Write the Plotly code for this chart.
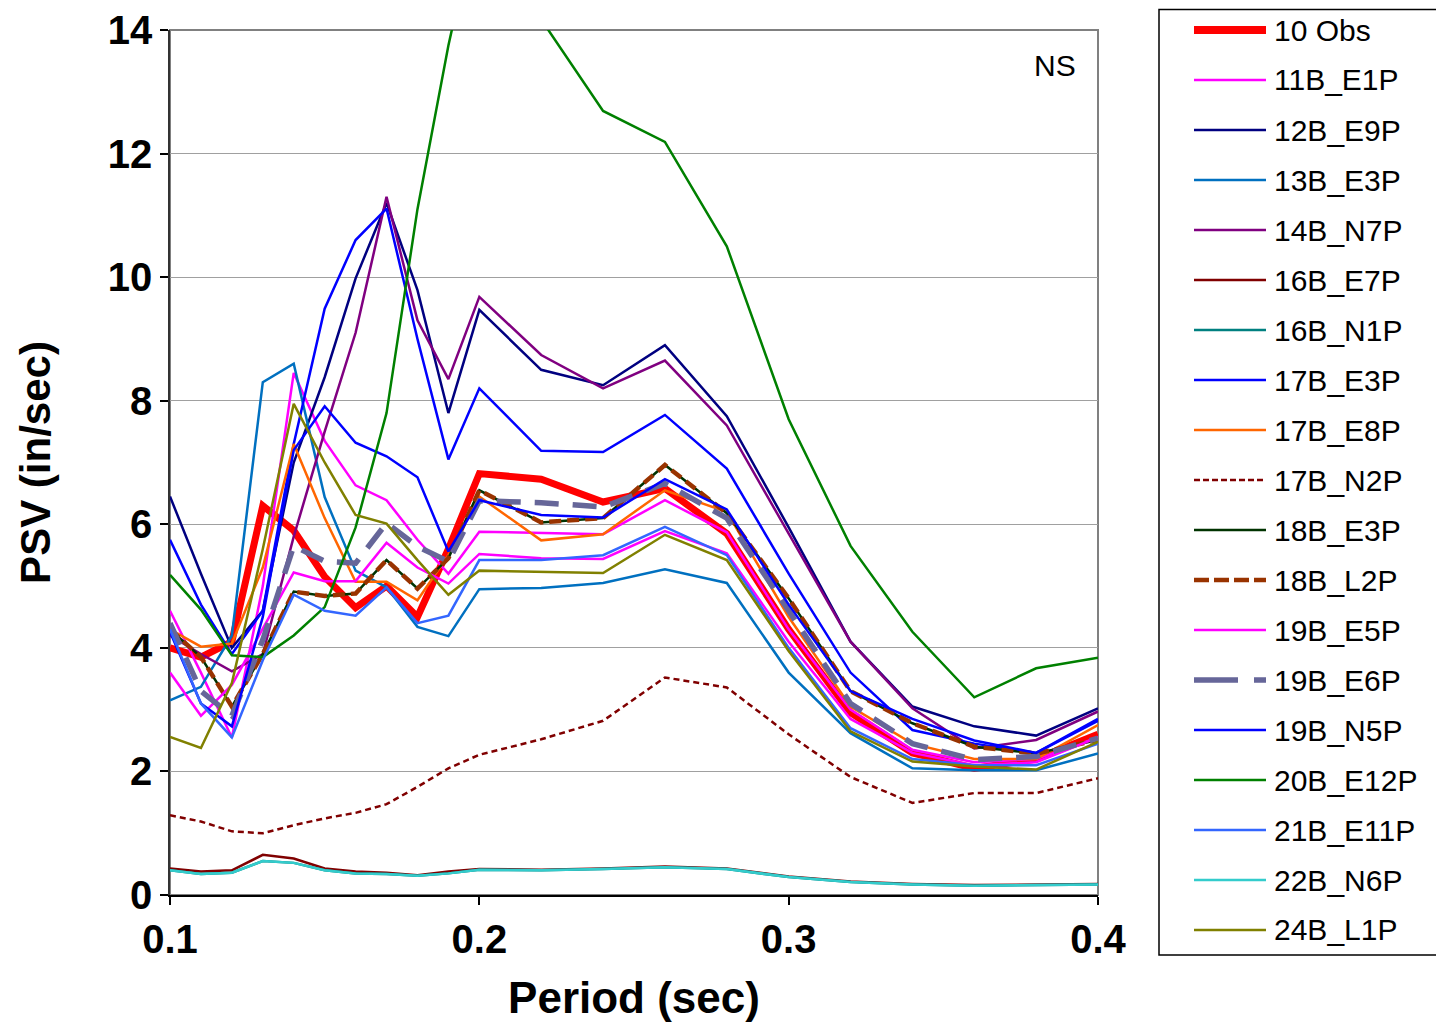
import plotly.graph_objects as go

period = [0.10, 0.11, 0.12, 0.13, 0.14, 0.15, 0.16, 0.17, 0.18, 0.19, 0.20,
          0.22, 0.24, 0.26, 0.28, 0.30, 0.32, 0.34, 0.36, 0.38, 0.40]

obs_10   = [4.00, 3.85, 4.10, 6.30, 5.90, 5.15, 4.65, 5.00, 4.50, 5.60, 6.82, 6.73, 6.36, 6.58, 5.85, 4.30, 2.95, 2.30, 2.05, 2.20, 2.60]
e1p_11b  = [4.60, 3.60, 2.55, 5.00, 8.45, 7.35, 6.63, 6.39, 5.75, 5.20, 5.88, 5.86, 5.84, 6.39, 5.87, 4.30, 3.00, 2.35, 2.15, 2.20, 2.55]
e9p_12b  = [6.45, 5.20, 4.00, 4.60, 7.00, 8.38, 9.98, 11.20, 9.79, 7.80, 9.47, 8.50, 8.25, 8.90, 7.75, 5.95, 4.10, 3.05, 2.73, 2.58, 3.02]
e3p_13b  = [3.15, 3.37, 4.20, 8.30, 8.60, 6.44, 5.25, 4.98, 4.34, 4.19, 4.95, 4.97, 5.05, 5.27, 5.05, 3.60, 2.62, 2.05, 2.02, 2.02, 2.29]
n7p_14b  = [4.20, 3.90, 3.62, 3.90, 5.80, 7.50, 9.10, 11.30, 9.30, 8.35, 9.68, 8.74, 8.20, 8.65, 7.60, 5.85, 4.10, 3.02, 2.37, 2.51, 2.97]
e7p_16b  = [0.43, 0.38, 0.40, 0.65, 0.59, 0.43, 0.38, 0.36, 0.32, 0.38, 0.42, 0.41, 0.43, 0.46, 0.43, 0.30, 0.22, 0.18, 0.16, 0.17, 0.18]
n1p_16b  = [0.40, 0.34, 0.36, 0.55, 0.52, 0.40, 0.35, 0.34, 0.31, 0.35, 0.41, 0.40, 0.42, 0.45, 0.42, 0.29, 0.21, 0.17, 0.15, 0.16, 0.17]
e3p_17b  = [5.75, 4.70, 3.90, 4.60, 7.30, 9.49, 10.60, 11.11, 9.00, 7.05, 8.20, 7.19, 7.17, 7.77, 6.90, 5.20, 3.60, 2.67, 2.45, 2.30, 2.82]
e8p_17b  = [4.30, 4.02, 4.07, 5.30, 7.30, 6.10, 5.07, 5.07, 4.77, 5.50, 6.45, 5.74, 5.84, 6.55, 6.20, 4.50, 3.05, 2.45, 2.20, 2.20, 2.75]
n2p_17b  = [1.29, 1.19, 1.03, 1.00, 1.13, 1.24, 1.33, 1.47, 1.75, 2.05, 2.27, 2.52, 2.82, 3.52, 3.36, 2.60, 1.91, 1.49, 1.65, 1.65, 1.89]
e3p_18b  = [4.30, 3.85, 3.05, 3.90, 4.91, 4.84, 4.88, 5.42, 4.96, 5.45, 6.55, 6.03, 6.10, 6.96, 6.18, 4.80, 3.30, 2.78, 2.40, 2.29, 2.51]
l2p_18b  = [4.30, 3.85, 3.05, 3.90, 4.91, 4.84, 4.88, 5.42, 4.96, 5.45, 6.55, 6.03, 6.10, 6.96, 6.18, 4.80, 3.30, 2.78, 2.40, 2.29, 2.51]
e5p_19b  = [3.60, 2.90, 3.40, 4.30, 5.22, 5.08, 5.08, 5.70, 5.30, 5.04, 5.52, 5.45, 5.44, 5.89, 5.53, 4.10, 2.85, 2.30, 2.10, 2.15, 2.55]
e6p_19b  = [4.40, 3.30, 2.90, 4.13, 5.65, 5.40, 5.37, 6.02, 5.64, 5.40, 6.38, 6.35, 6.28, 6.66, 6.10, 4.60, 3.10, 2.45, 2.19, 2.24, 2.54]
n5p_19b  = [4.26, 3.10, 2.73, 4.50, 7.20, 7.91, 7.32, 7.10, 6.76, 5.56, 6.39, 6.15, 6.11, 6.73, 6.24, 4.70, 3.30, 2.85, 2.50, 2.30, 2.85]
e12p_20b = [5.18, 4.62, 3.88, 3.85, 4.20, 4.66, 5.95, 7.80, 11.10, 13.75, 16.00, 14.17, 12.69, 12.19, 10.50, 7.70, 5.65, 4.26, 3.20, 3.67, 3.84]
e11p_21b = [4.30, 3.10, 2.55, 3.80, 4.86, 4.60, 4.52, 4.98, 4.40, 4.52, 5.42, 5.42, 5.50, 5.96, 5.50, 4.00, 2.70, 2.20, 2.10, 2.10, 2.45]
n6p_22b  = [0.40, 0.34, 0.36, 0.55, 0.52, 0.40, 0.35, 0.34, 0.31, 0.35, 0.41, 0.40, 0.42, 0.45, 0.42, 0.29, 0.21, 0.17, 0.15, 0.16, 0.17]
l1p_24b  = [2.56, 2.38, 3.43, 5.60, 7.95, 7.00, 6.15, 6.01, 5.42, 4.86, 5.25, 5.23, 5.21, 5.83, 5.42, 3.95, 2.65, 2.16, 2.08, 2.03, 2.48]

# name, values, colour, width, plot dash, legend dash
series = [
    ("10 Obs",   obs_10,   "#FF0000", 7,   "solid",     "solid"),
    ("11B_E1P",  e1p_11b,  "#FF00FF", 2.5, "solid",     "solid"),
    ("12B_E9P",  e9p_12b,  "#000080", 2.5, "solid",     "solid"),
    ("13B_E3P",  e3p_13b,  "#0070C0", 2.5, "solid",     "solid"),
    ("14B_N7P",  n7p_14b,  "#800080", 2.5, "solid",     "solid"),
    ("16B_E7P",  e7p_16b,  "#800000", 2.5, "solid",     "solid"),
    ("16B_N1P",  n1p_16b,  "#008080", 2.5, "solid",     "solid"),
    ("17B_E3P",  e3p_17b,  "#0000FF", 2.5, "solid",     "solid"),
    ("17B_E8P",  e8p_17b,  "#FF6600", 2.5, "solid",     "solid"),
    ("17B_N2P",  n2p_17b,  "#800000", 2.5, "6px,4px",   "6px,3px"),
    ("18B_E3P",  e3p_18b,  "#003300", 2.5, "solid",     "solid"),
    ("18B_L2P",  l2p_18b,  "#993300", 4.5, "12px,6px",  "15px,5px"),
    ("19B_E5P",  e5p_19b,  "#FF00FF", 2.5, "solid",     "solid"),
    ("19B_E6P",  e6p_19b,  "#666699", 5.5, "24px,14px", "44px,16px"),
    ("19B_N5P",  n5p_19b,  "#0000FF", 2.5, "solid",     "solid"),
    ("20B_E12P", e12p_20b, "#008000", 2.5, "solid",     "solid"),
    ("21B_E11P", e11p_21b, "#3366FF", 2.5, "solid",     "solid"),
    ("22B_N6P",  n6p_22b,  "#33CCCC", 2.5, "solid",     "solid"),
    ("24B_L1P",  l1p_24b,  "#808000", 2.5, "solid",     "solid"),
]

FONT = "Liberation Sans, Arial, sans-serif"
OFF = 8                                   # page body margin of the html page
SW, SH = 1444, 1030                       # screen size
W, H = SW - OFF, SH - OFF                 # figure size
PL, PR, PT, PB = 170, 1098, 30, 895       # plot-area box in screen pixels


def px_x(px):
    return (px - PL) / (PR - PL)


def px_y(py):
    return (PB - py) / (PB - PT)


fig = go.Figure()
for name, vals, color, width, dash, _ in series:
    fig.add_trace(go.Scatter(
        x=period, y=vals, mode="lines", name=name, showlegend=False,
        line=dict(color=color, width=width, dash=dash),
    ))

shapes = [dict(type="rect", xref="paper", yref="paper", x0=0, y0=0, x1=1, y1=1,
               line=dict(color="#808080", width=2), layer="below")]
annotations = [dict(text="NS", xref="paper", yref="paper", x=px_x(1055), y=px_y(65),
                    xanchor="center", yanchor="middle", showarrow=False,
                    font=dict(family=FONT, size=30, color="black"))]

# legend box drawn with shapes and text (keeps the tall box un-scrolled)
shapes.append(dict(type="rect", xref="paper", yref="paper",
                   x0=px_x(1159), x1=px_x(1440), y0=px_y(955), y1=px_y(9.5),
                   line=dict(color="black", width=1.5), fillcolor="white", layer="above"))
for i, (name, vals, color, width, dash, ldash) in enumerate(series):
    yy = px_y(30 + 50 * i)
    lw = 8 if i == 0 else width
    shapes.append(dict(type="line", xref="paper", yref="paper",
                       x0=px_x(1194), x1=px_x(1266), y0=yy, y1=yy,
                       line=dict(color=color, width=lw, dash=ldash), layer="above"))
    annotations.append(dict(text=name, xref="paper", yref="paper",
                            x=px_x(1272), y=yy, xanchor="left", yanchor="middle",
                            showarrow=False,
                            font=dict(family=FONT, size=30, color="black")))

fig.update_layout(
    width=W, height=H,
    margin=dict(l=PL - OFF, r=SW - PR, t=PT - OFF, b=SH - PB),
    paper_bgcolor="white", plot_bgcolor="white",
    font=dict(family=FONT, color="black"),
    showlegend=False,
    xaxis=dict(
        range=[0.1, 0.4], tickvals=[0.1, 0.2, 0.3, 0.4],
        ticktext=["0.1", "0.2", "0.3", "0.4"], automargin=False,
        showgrid=False, zeroline=False,
        showline=True, linecolor="black", linewidth=1.5,
        ticks="outside", ticklen=8, tickcolor="black", tickwidth=1.5,
        tickfont=dict(family=FONT, size=40, weight="bold", color="black"),
        title=dict(text="Period (sec)", standoff=22,
                   font=dict(family=FONT, size=44, weight="bold", color="black")),
    ),
    yaxis=dict(
        range=[0, 14], tickvals=[0, 2, 4, 6, 8, 10, 12, 14], automargin=False,
        showgrid=True, gridcolor="#A0A0A0", gridwidth=1, zeroline=False,
        showline=True, linecolor="#333333", linewidth=1.5,
        ticks="outside", ticklen=8, tickcolor="black", tickwidth=1.5,
        tickfont=dict(family=FONT, size=40, weight="bold", color="black"),
        title=dict(text="PSV (in/sec)", standoff=44,
                   font=dict(family=FONT, size=42, weight="bold", color="black")),
    ),
    shapes=shapes,
    annotations=annotations,
)

fig.write_html("out.html")
